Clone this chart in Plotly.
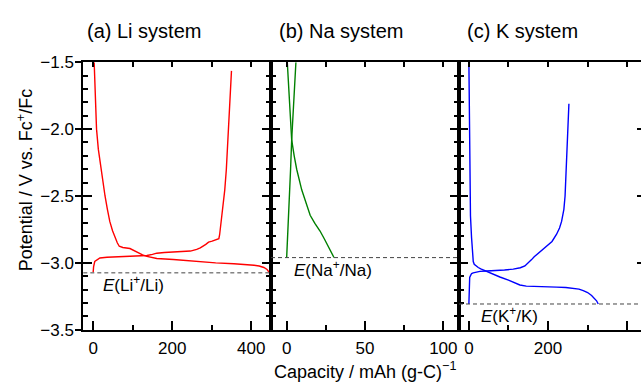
import plotly.graph_objects as go

# ---------------- data: capacity (mAh g-C^-1) vs potential (V vs. Fc+/Fc) ----------------
li_red_cap = [2.5, 5, 8.5, 13, 17, 23, 30, 36, 42, 49, 55, 61, 66, 75, 93, 110, 125, 136,
              150, 161, 203, 240, 271, 310, 356, 390, 407, 420, 432, 440, 445]
li_red_v = [-1.50, -1.75, -2.00, -2.15, -2.24, -2.38, -2.50, -2.60, -2.69, -2.76, -2.81,
            -2.85, -2.876, -2.885, -2.893, -2.92, -2.94, -2.952, -2.962, -2.968, -2.975,
            -2.985, -2.995, -3.000, -3.007, -3.012, -3.018, -3.024, -3.035, -3.05, -3.07]
li_ox_cap = [0, 1, 4, 10, 17, 35, 59, 101, 136, 150, 161, 180, 203, 230, 246, 262, 271,
             285, 292, 301, 310, 318, 320, 322, 326, 329, 333, 337, 343, 347, 350]
li_ox_v = [-3.07, -3.03, -2.99, -2.975, -2.964, -2.958, -2.955, -2.952, -2.945, -2.937,
           -2.928, -2.923, -2.92, -2.916, -2.912, -2.90, -2.888, -2.862, -2.845, -2.838,
           -2.83, -2.82, -2.79, -2.74, -2.66, -2.60, -2.454, -2.30, -2.00, -1.78, -1.564]

na_red_cap = [0.4, 1.8, 3.2, 4.8, 6.4, 9.6, 12.5, 15, 18, 21.3, 24, 26.6, 28.6, 30.2]
na_red_v = [-1.50, -1.80, -2.08, -2.20, -2.30, -2.454, -2.56, -2.644, -2.705, -2.762,
            -2.82, -2.88, -2.925, -2.96]
na_ox_cap = [0, 0.9, 1.8, 2.5, 3.2, 4.5, 5.9]
na_ox_v = [-2.96, -2.75, -2.55, -2.30, -2.08, -1.79, -1.50]

k_red_cap = [0, 1, 1.8, 2.5, 4, 6.7, 8, 9.3, 11, 13.5, 18, 23.6, 30, 40.4, 60, 78.3, 100,
             128.8, 145, 162.5, 190, 221.5, 245, 263.6, 278, 288.9, 300, 310, 318, 322.6,
             326.8]
k_red_v = [-1.50, -1.80, -2.20, -2.50, -2.65, -2.81, -2.90, -2.952, -2.99, -3.011, -3.025,
           -3.035, -3.045, -3.059, -3.085, -3.106, -3.13, -3.166, -3.174, -3.177, -3.18,
           -3.182, -3.185, -3.19, -3.197, -3.208, -3.222, -3.244, -3.266, -3.284, -3.308]
k_ox_cap = [0, 0.4, 0.8, 2, 5, 7, 10.9, 18, 27.8, 45, 61.5, 90, 112, 130, 141.5, 150, 158.4,
            165, 171, 185, 196.3, 210, 221.6, 229, 234.2, 240, 243, 246, 249.3, 252.7]
k_ox_v = [-3.308, -3.22, -3.142, -3.11, -3.09, -3.08, -3.075, -3.068, -3.064, -3.061,
          -3.059, -3.054, -3.047, -3.037, -3.023, -3.002, -2.976, -2.955, -2.94, -2.91,
          -2.88, -2.84, -2.786, -2.74, -2.69, -2.60, -2.50, -2.25, -2.00, -1.81]

# reference electrode potentials (V vs. Fc+/Fc)
e_li, e_na, e_k = -3.075, -2.961, -3.308

panel_titles = ["(a) Li system", "(b) Na system", "(c) K system"]
ref_labels = ["<i>E</i>(Li<sup>+</sup>/Li)", "<i>E</i>(Na<sup>+</sup>/Na)",
              "<i>E</i>(K<sup>+</sup>/K)"]
y_tick_vals = [-3.5, -3.0, -2.5, -2.0, -1.5]
y_tick_text = ["\u22123.5", "\u22123.0", "\u22122.5", "\u22122.0", "\u22121.5"]
x_ticks_wide = [0, 200, 400]
x_minor_wide = [100, 300]
x_ticks_na = [0, 50, 100]
x_minor_na = [25, 75]
x_title = "Capacity / mAh (g-C)<sup>\u22121</sup>"
y_title = "Potential / V vs. Fc<sup>+</sup>/Fc"

# ---------------- layout geometry ----------------
W, H = 641, 392
FONT = "Liberation Sans, Arial, Helvetica, sans-serif"


def fx(p):
    return p / W


def fy(p):
    return (H - p) / H


dom_a = [fx(83.3), fx(271)]
dom_b = [fx(271), fx(459)]
dom_c = [fx(459), 1.0]
dom_y = [fy(337), fy(56)]
rng_wide = [-25, 450]
rng_na = [-10, 110]
rng_k = [-25, -25 + 475 * (W - 459) / 188]
rng_y = [-3.5, -1.5]

fig = go.Figure()

line_w = 1.4
fig.add_trace(go.Scatter(x=li_red_cap, y=li_red_v, xaxis="x", yaxis="y", mode="lines",
                         line=dict(color="#ff0000", width=line_w)))
fig.add_trace(go.Scatter(x=li_ox_cap, y=li_ox_v, xaxis="x", yaxis="y", mode="lines",
                         line=dict(color="#ff0000", width=line_w)))
fig.add_trace(go.Scatter(x=na_red_cap, y=na_red_v, xaxis="x2", yaxis="y2", mode="lines",
                         line=dict(color="#008000", width=line_w)))
fig.add_trace(go.Scatter(x=na_ox_cap, y=na_ox_v, xaxis="x2", yaxis="y2", mode="lines",
                         line=dict(color="#008000", width=line_w)))
fig.add_trace(go.Scatter(x=k_red_cap, y=k_red_v, xaxis="x3", yaxis="y3", mode="lines",
                         line=dict(color="#0000ff", width=line_w)))
fig.add_trace(go.Scatter(x=k_ox_cap, y=k_ox_v, xaxis="x3", yaxis="y3", mode="lines",
                         line=dict(color="#0000ff", width=line_w)))

# empty traces so the overlay (tick-only) axes are instantiated
for xa, ya in [("x4", "y"), ("x5", "y2"), ("x6", "y3"), ("x", "y5"), ("x3", "y4")]:
    fig.add_trace(go.Scatter(x=[None], y=[None], xaxis=xa, yaxis=ya, mode="lines",
                             hoverinfo="skip"))

tick_font = dict(family=FONT, size=17, color="black")
base = dict(showgrid=False, zeroline=False, linecolor="black", tickcolor="black",
            tickfont=tick_font)


def x_bottom(dom, anchor, rng, majors, minors):
    return dict(base, domain=dom, anchor=anchor, range=rng, tickmode="array",
                tickvals=majors, ticks="inside", ticklen=9, tickwidth=1.5,
                minor=dict(tickmode="array", tickvals=minors, ticks="inside",
                           ticklen=5, tickwidth=1.5, tickcolor="black"),
                showline=True, linewidth=2, mirror=True, ticklabelstandoff=2)


def x_top(over, anchor, rng, step):
    return dict(base, overlaying=over, anchor=anchor, side="top", range=rng,
                tickmode="linear", tick0=0, dtick=step, ticks="inside", ticklen=5,
                tickwidth=1.5, showticklabels=False, showline=False)


def y_frame(dom, anchor, mirror):
    return dict(base, domain=dom, anchor=anchor, range=rng_y, tickmode="array",
                tickvals=y_tick_vals, ticks="inside", ticklen=9, tickwidth=1.5,
                minor=dict(tickmode="linear", tick0=-3.5, dtick=0.1, ticks="inside",
                           ticklen=5, tickwidth=1.5, tickcolor="black"),
                showticklabels=False, showline=True, linewidth=2, mirror=mirror)


fig.update_layout(
    width=W, height=H, margin=dict(l=0, r=0, t=0, b=0), autosize=False,
    paper_bgcolor="white", plot_bgcolor="white", showlegend=False,
    font=dict(family=FONT, size=17, color="black"),
    xaxis=x_bottom(dom_a, "y", rng_wide, x_ticks_wide, x_minor_wide),
    xaxis2=x_bottom(dom_b, "y2", rng_na, x_ticks_na, x_minor_na),
    xaxis3=x_bottom(dom_c, "y3", rng_k, x_ticks_wide, x_minor_wide),
    xaxis4=x_top("x", "y", rng_wide, 100),
    xaxis5=x_top("x2", "y2", rng_na, 25),
    xaxis6=x_top("x3", "y3", rng_k, 100),
    yaxis=y_frame(dom_y, "x", "ticks"),
    yaxis2=y_frame(dom_y, "x2", "ticks"),
    yaxis3=y_frame(dom_y, "x3", False),
    # short inward major ticks along the right-hand frame of panel (c)
    yaxis4=dict(base, overlaying="y3", anchor="x3", side="right", range=rng_y,
                tickmode="array", tickvals=y_tick_vals, ticks="inside", ticklen=4,
                tickwidth=1.5, showticklabels=False, showline=False),
    # outward half of the major ticks and the labels on the left frame
    yaxis5=dict(base, overlaying="y", anchor="x", side="left", range=rng_y,
                tickmode="array", tickvals=y_tick_vals, ticktext=y_tick_text,
                ticks="outside", ticklen=7, tickwidth=1.5, showline=False,
                ticklabelstandoff=-2),
)

# dashed reference-potential lines across each panel
for xr, yr, e in [("x domain", "y", e_li), ("x2 domain", "y2", e_na),
                  ("x3 domain", "y3", e_k)]:
    fig.add_shape(type="line", xref=xr, yref=yr, x0=0, x1=1, y0=e, y1=e,
                  line=dict(color="#444444", width=1, dash="4px,3px"))

ann_font = dict(family=FONT, size=17, color="black")
for xr, yr, xv, yv, txt in [("x", "y", 21, -3.16, ref_labels[0]),
                            ("x2", "y2", 3.2, -3.047, ref_labels[1]),
                            ("x3", "y3", 26, -3.391, ref_labels[2])]:
    fig.add_annotation(xref=xr, yref=yr, x=xv, y=yv, text=txt, showarrow=False,
                       xanchor="left", yanchor="middle", font=ann_font)

title_font = dict(family=FONT, size=20, color="black")
for left, txt in zip([85, 277, 465], panel_titles):
    fig.add_annotation(xref="paper", yref="paper", x=fx(left), y=fy(23), text=txt,
                       showarrow=False, xanchor="left", yanchor="middle",
                       font=title_font)

axis_title_font = dict(family=FONT, size=18, color="black")
fig.add_annotation(xref="paper", yref="paper", x=fx(365), y=fy(380), text=x_title,
                   showarrow=False, xanchor="center", yanchor="middle",
                   font=axis_title_font)
fig.add_annotation(xref="paper", yref="paper", x=fx(25), y=fy(180), text=y_title,
                   showarrow=False, xanchor="center", yanchor="middle", textangle=-90,
                   font=axis_title_font)

fig.write_html("out.html")
